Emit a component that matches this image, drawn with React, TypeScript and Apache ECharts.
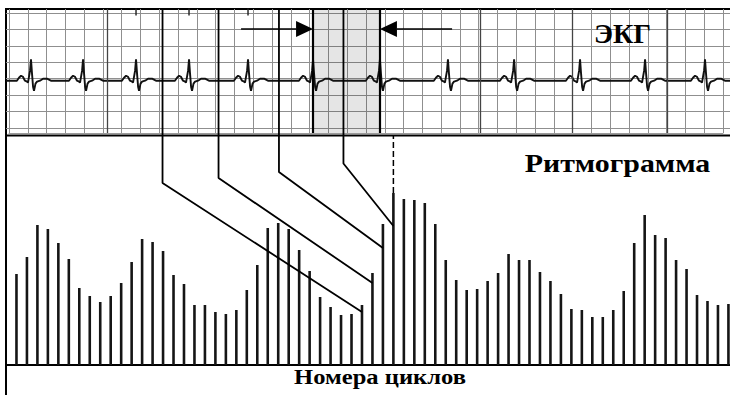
import React, { useEffect, useRef } from "react";
import * as echarts from "echarts";

// ---------- Rhythmogram: RR interval of each cardiac cycle (arbitrary units) ----------
const rrValues = [
  91, 108, 140, 136, 122, 106, 77, 69, 63, 69,
  82, 103, 126, 123, 114, 90, 81, 60, 60, 53,
  51, 55, 75, 100, 137, 142, 136, 115, 94, 68,
  58, 50, 51, 60, 92, 141, 172, 166, 165, 162,
  141, 105, 85, 75, 76, 84, 92, 111, 105, 105,
  93, 84, 71, 56, 55, 48, 48, 55, 74, 122,
  150, 130, 127, 105, 96, 70, 64, 60, 61,
];

// ---------- ECG strip (x in big paper boxes, y in big paper boxes) ----------
const rPeaks = [1.17, 3.94, 6.76, 9.58, 12.72, 16.18, 19.74, 23.36, 26.88, 30.39, 33.85, 37.04];
const beatOffsets = [-0.75, -0.64, -0.53, -0.43, -0.32, -0.21, -0.16, -0.05, 0, 0.05, 0.11, 0.16, 0.24, 0.32, 0.48, 0.64, 0.85, 1.06];
const beatAmplitudes = [0, 0.18, 0.3, 0.24, 0, -0.06, -0.12, 0.61, 1.3, 0.49, -0.37, -0.62, -0.18, -0.06, 0, 0.12, 0.12, 0];
const ecgBaseline = 2.88;
const darkPaperLines = [5.22, 25.1, 30.0, 35.02];
const markedBeats = [2, 3, 4]; // beats with a tick on the top edge
const measuredInterval = [5, 6]; // R-R interval highlighted with arrows

// ---------- links from ECG intervals to rhythmogram bars ----------
const linkTopX = [14.95, 20.3, 26.07, 32.23]; // in cycle units
const linkBendY = [182, 187, 193, 201.5];
const linkBar = [34, 35, 36, 37];
const linkHitY = [53, 82, 117, 139];
const linkTopY = 356; // top edge of ECG paper, in rhythmogram units
const dashedBar = 37;

const serif = '"Liberation Serif", "Times New Roman", Times, serif';

export default function App() {
  const ref = useRef<HTMLDivElement>(null);
  useEffect(() => {
    document.body.style.margin = "0";
    const chart = echarts.init(ref.current!, undefined, { renderer: "svg" });

    const ecgPoints: number[][] = [[-0.16, ecgBaseline]];
    rPeaks.forEach((r) =>
      beatOffsets.forEach((dx, k) => ecgPoints.push([r + dx, ecgBaseline + beatAmplitudes[k]]))
    );
    ecgPoints.push([38.37, ecgBaseline]);

    const shadeFrom = rPeaks[measuredInterval[0]];
    const shadeTo = rPeaks[measuredInterval[1]];
    const arrowY = 6.03;
    const arrows = [
      [12.35, shadeFrom, arrowY],
      [23.58, shadeTo, arrowY],
    ];

    const gridLine = { color: "#8f8f8f", width: 1 };

    const linkSeries = linkTopX.map((x, i) => ({
      type: "line",
      xAxisIndex: 2,
      yAxisIndex: 2,
      clip: false,
      symbol: "none",
      silent: true,
      z: 5,
      lineStyle: { color: "#000", width: 1.8 },
      data: [
        [x, linkTopY],
        [x, linkBendY[i]],
        [linkBar[i], linkHitY[i]],
      ],
    }));

    const textStyle = (text: string, size: number) => ({
      text,
      fontFamily: serif,
      fontWeight: "bold",
      fontSize: size,
      fill: "#000",
      align: "center",
      verticalAlign: "middle",
      textAlign: "center",
      textVerticalAlign: "middle",
    });

    const option: any = {
      animation: false,
      backgroundColor: "#ffffff",
      grid: [
        { left: 9, top: 9, width: 714, height: 124 },
        { left: 6, top: 13, width: 724, height: 115 },
        { left: 6, top: 135, width: 724, height: 230 },
      ],
      xAxis: [
        {
          gridIndex: 0, type: "value", min: 0, max: 38, interval: 1,
          axisLine: { show: true, lineStyle: { color: "#9a9a9a", width: 1 } },
          axisTick: { show: false }, axisLabel: { show: false },
          splitLine: { show: true, lineStyle: gridLine },
        },
        { gridIndex: 1, type: "value", min: -0.16, max: 38.37, show: false },
        {
          gridIndex: 2, type: "value", min: 0, max: 69.15,
          axisLine: { show: true, onZero: false, lineStyle: { color: "#000", width: 2 } },
          axisTick: { show: false }, axisLabel: { show: false }, splitLine: { show: false },
        },
      ],
      yAxis: [
        { gridIndex: 0, type: "value", min: 0, max: 1, show: false },
        {
          gridIndex: 1, type: "value", min: 0, max: 7, interval: 1,
          axisLine: { show: false }, axisTick: { show: false }, axisLabel: { show: false },
          splitLine: { show: true, lineStyle: gridLine },
        },
        { gridIndex: 2, type: "value", min: 0, max: 230, show: false },
      ],
      series: [
        {
          type: "line", xAxisIndex: 0, yAxisIndex: 0, data: [], silent: true,
          markArea: {
            silent: true,
            itemStyle: { color: "rgba(0,0,0,0.10)" },
            data: [[{ xAxis: shadeFrom }, { xAxis: shadeTo }]],
          },
          markLine: {
            silent: true, symbol: "none", label: { show: false },
            data: [
              ...darkPaperLines.map((x) => ({ xAxis: x, lineStyle: { color: "#444", width: 1.3, type: "solid" } })),
              { xAxis: shadeFrom, lineStyle: { color: "#000", width: 2.2, type: "solid" } },
              { xAxis: shadeTo, lineStyle: { color: "#000", width: 2.2, type: "solid" } },
            ],
          },
        },
        {
          type: "line", xAxisIndex: 1, yAxisIndex: 1, clip: false, symbol: "none", silent: true,
          lineStyle: { color: "#111", width: 1.9 }, data: ecgPoints, z: 4,
        },
        {
          type: "scatter", xAxisIndex: 1, yAxisIndex: 1, clip: false, silent: true,
          symbol: "rect", symbolSize: [1.8, 7], itemStyle: { color: "#222" },
          data: markedBeats.map((b) => [rPeaks[b], 7.06]),
        },
        {
          type: "custom", xAxisIndex: 1, yAxisIndex: 1, clip: false, silent: true, z: 6,
          data: arrows,
          renderItem: (_p: any, api: any) => {
            const s = api.coord([api.value(0), api.value(2)]);
            const t = api.coord([api.value(1), api.value(2)]);
            const dir = Math.sign(t[0] - s[0]);
            const L = 17;
            const H = 8;
            return {
              type: "group",
              children: [
                { type: "line", shape: { x1: s[0], y1: s[1], x2: t[0] - dir * L, y2: t[1] }, style: { stroke: "#000", lineWidth: 1.6 } },
                { type: "polygon", shape: { points: [[t[0], t[1]], [t[0] - dir * L, t[1] - H], [t[0] - dir * L, t[1] + H]] }, style: { fill: "#000" } },
              ],
            };
          },
        },
        {
          type: "bar", xAxisIndex: 2, yAxisIndex: 2, barWidth: 2.6, silent: true,
          itemStyle: { color: "#151515" },
          data: rrValues.map((v, i) => [i + 1, v]),
        },
        ...linkSeries,
        {
          type: "line", xAxisIndex: 2, yAxisIndex: 2, clip: false, symbol: "none", silent: true, z: 5,
          lineStyle: { color: "#000", width: 1.5, type: [6, 3] },
          data: [[dashedBar, rrValues[dashedBar - 1]], [dashedBar, 230]],
        },
      ],
      graphic: [
        { type: "line", silent: true, shape: { x1: 5, y1: 9, x2: 730, y2: 9 }, style: { stroke: "#000", lineWidth: 2 } },
        { type: "line", silent: true, shape: { x1: 6, y1: 8, x2: 6, y2: 395 }, style: { stroke: "#000", lineWidth: 2 } },
        { type: "line", silent: true, shape: { x1: 6, y1: 135.5, x2: 730, y2: 135.5 }, style: { stroke: "#000", lineWidth: 2 } },
        { type: "text", x: 622.5, y: 33, z: 10, style: textStyle("ЭКГ", 28) },
        { type: "text", x: 617.5, y: 163, scaleX: 1.15, z: 10, style: textStyle("Ритмограмма", 26) },
        { type: "text", x: 380, y: 377.5, scaleX: 1.17, z: 10, style: textStyle("Номера циклов", 21) },
      ],
    };
    chart.setOption(option);
    return () => chart.dispose();
  }, []);
  return <div ref={ref} style={{ width: 730, height: 395 }} />;
}
